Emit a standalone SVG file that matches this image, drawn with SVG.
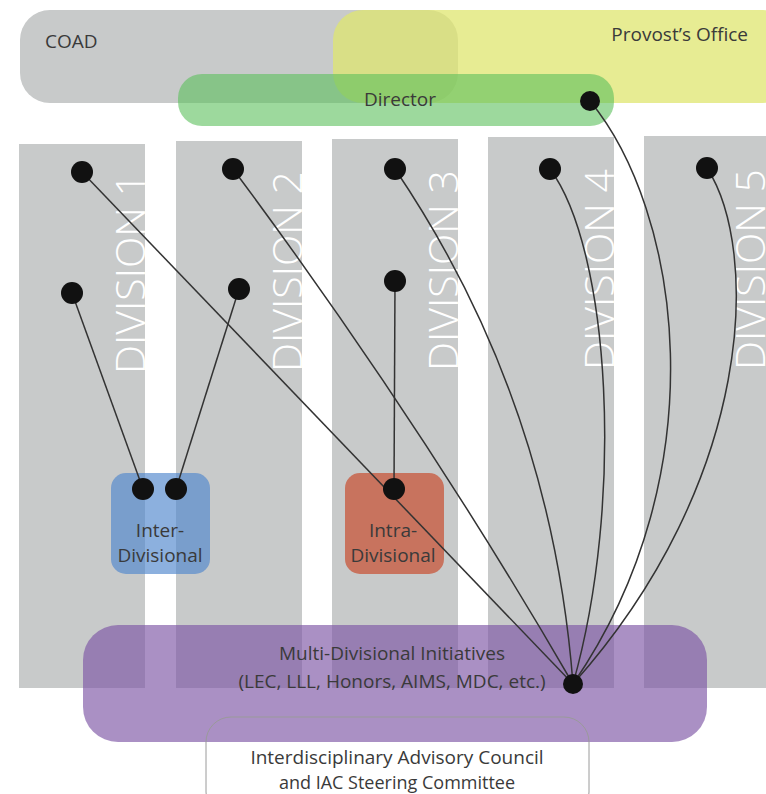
<svg xmlns="http://www.w3.org/2000/svg" width="766" height="794" viewBox="0 0 766 794">
<style>
  text { font-family: "Open Sans", "Liberation Sans", sans-serif; fill: #3a3a3a; }
  .lbl { font-size: 19px; }
  .sm { font-size: 18px; }
  .mid { text-anchor: middle; }
  .div { fill: #c8caca; }
  .divtxt { font-size: 41px; font-weight: 300; fill: #ffffff; }
  .dot { fill: #111111; }
  .con { fill: none; stroke: #333333; stroke-width: 1.5; }
</style>
<rect width="766" height="794" fill="#ffffff"/>

<g id="division1"><rect class="div" x="19" y="144" width="126" height="544"/><text class="divtxt" transform="translate(145,374) rotate(-90)">DIVISION 1</text></g>
<g id="division2"><rect class="div" x="176" y="141" width="126" height="547"/><text class="divtxt" transform="translate(302,372) rotate(-90)">DIVISION 2</text></g>
<g id="division3"><rect class="div" x="332" y="139" width="126" height="549"/><text class="divtxt" transform="translate(458,371) rotate(-90)">DIVISION 3</text></g>
<g id="division4"><rect class="div" x="488" y="137" width="126" height="551"/><text class="divtxt" transform="translate(614,370) rotate(-90)">DIVISION 4</text></g>
<g id="division5"><rect class="div" x="644" y="136" width="126" height="552"/><text class="divtxt" transform="translate(765,370) rotate(-90)">DIVISION 5</text></g>

<g id="coad"><rect x="20" y="10" width="438" height="93" rx="30" fill="#c8caca"/><text class="lbl" x="45" y="48">COAD</text></g>
<g id="provost"><rect x="333" y="10" width="460" height="93" rx="30" fill="#dfe66f" fill-opacity="0.75"/><text class="lbl" x="748" y="41" text-anchor="end">Provost’s Office</text></g>
<g id="director"><rect x="178" y="74" width="436" height="52" rx="24" fill="#5cbf5c" fill-opacity="0.6"/><text class="lbl mid" x="400" y="106">Director</text></g>

<g id="inter"><rect x="111" y="473" width="99" height="101" rx="15" fill="#4f86cc" fill-opacity="0.65"/><text class="lbl mid" x="160" y="537">Inter-</text><text class="lbl mid" x="160" y="562">Divisional</text></g>
<g id="intra"><rect x="345" y="473" width="99" height="101" rx="15" fill="#c8735e"/><text class="lbl mid" x="393" y="537">Intra-</text><text class="lbl mid" x="393" y="562">Divisional</text></g>

<g id="multi"><rect x="83" y="625" width="624" height="117" rx="35" fill="#7d55a5" fill-opacity="0.65"/><text class="lbl mid" x="392" y="660">Multi-Divisional Initiatives</text><text class="lbl mid" x="392" y="688">(LEC, LLL, Honors, AIMS, MDC, etc.)</text></g>
<g id="iac"><rect x="206" y="717" width="383" height="100" rx="25" fill="none" stroke="#9a9a9a" stroke-width="1"/><text class="lbl mid" x="397" y="764">Interdisciplinary Advisory Council</text><text class="sm mid" x="397" y="789">and IAC Steering Committee</text></g>

<g id="connectors">
  <line class="con" x1="72" y1="293" x2="143" y2="489"/>
  <line class="con" x1="239" y1="289" x2="176" y2="489"/>
  <line class="con" x1="395" y1="281" x2="394" y2="489"/>
  <line class="con" x1="82" y1="172" x2="573" y2="684"/>
  <path class="con" d="M233,169 Q420,420 573,684"/>
  <path class="con" d="M395,169 C470,280 555,450 573,684"/>
  <path class="con" d="M550,169 C610,250 625,500 573,684"/>
  <path class="con" d="M590,101 C680,210 720,470 573,684"/>
  <path class="con" d="M707,168 C760,250 755,480 573,684"/>
</g>

<g id="dots">
  <circle class="dot" cx="590" cy="101" r="10"/>
  <circle class="dot" cx="82" cy="172" r="11"/>
  <circle class="dot" cx="72" cy="293" r="11"/>
  <circle class="dot" cx="233" cy="169" r="11"/>
  <circle class="dot" cx="239" cy="289" r="11"/>
  <circle class="dot" cx="395" cy="169" r="11"/>
  <circle class="dot" cx="395" cy="281" r="11"/>
  <circle class="dot" cx="550" cy="169" r="11"/>
  <circle class="dot" cx="707" cy="168" r="11"/>
  <circle class="dot" cx="143" cy="489" r="11"/>
  <circle class="dot" cx="176" cy="489" r="11"/>
  <circle class="dot" cx="394" cy="489" r="11"/>
  <circle class="dot" cx="573" cy="684" r="10"/>
</g>
</svg>
